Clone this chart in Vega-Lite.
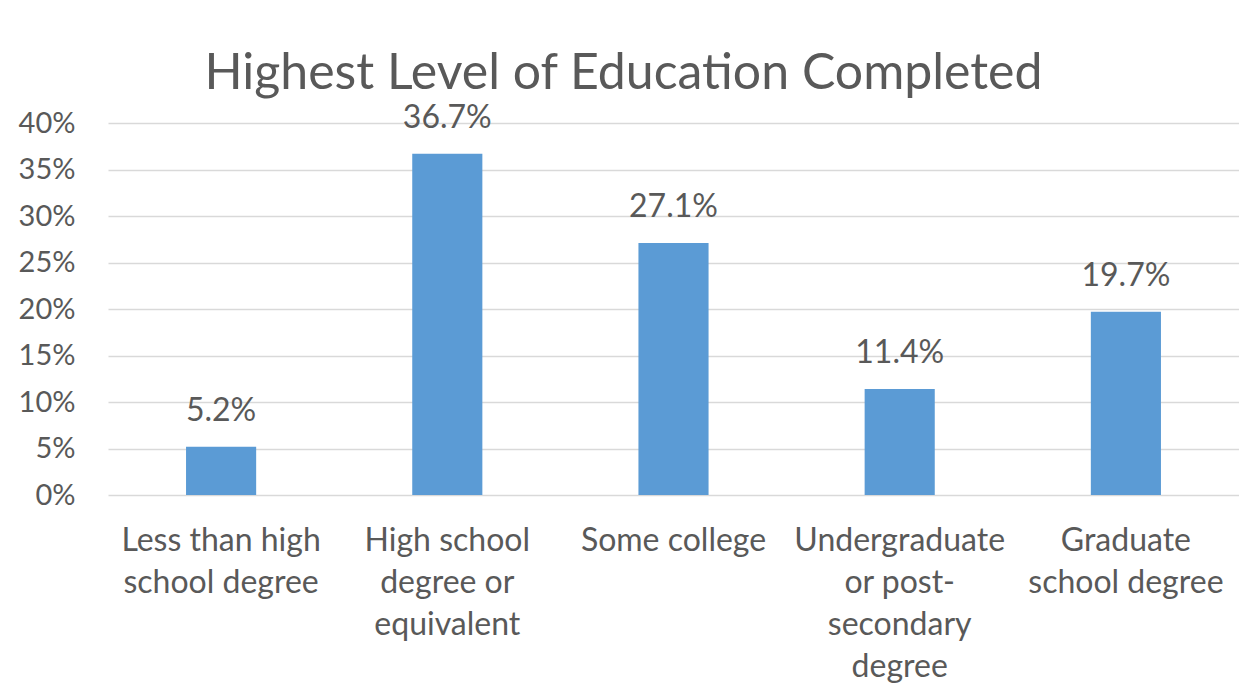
{
  "$schema": "https://vega.github.io/schema/vega-lite/v6.json",
  "autosize": {"type": "none"},
  "width": 1131,
  "height": 372,
  "padding": {"left": 108, "top": 123, "right": 0, "bottom": 201},
  "background": "white",
  "title": {
    "text": "Highest Level of Education Completed",
    "frame": "group",
    "anchor": "middle",
    "dx": -50,
    "dy": 67,
    "fontSize": 50,
    "font": "Lato",
    "fontWeight": "normal",
    "color": "#595959",
    "baseline": "alphabetic",
    "offset": 30
  },
  "data": {
    "values": [
      {"level": "Less than high school degree", "share": 0.052},
      {"level": "High school degree or equivalent", "share": 0.367},
      {"level": "Some college", "share": 0.271},
      {"level": "Undergraduate or post-secondary degree", "share": 0.114},
      {"level": "Graduate school degree", "share": 0.197}
    ]
  },
  "encoding": {
    "x": {
      "field": "level",
      "type": "nominal",
      "sort": null,
      "scale": {"paddingInner": 0.69, "paddingOuter": 0.345},
      "axis": {
        "title": null,
        "labelAngle": 0,
        "domain": false,
        "ticks": false,
        "labelPadding": 30,
        "labelFontSize": 32,
        "labelFont": "Lato",
        "labelColor": "#595959",
        "labelLineHeight": 42,
        "labelBaseline": "top",
        "labelLimit": 400,
        "labelExpr": "datum.value == 'Less than high school degree' ? ['Less than high', 'school degree'] : datum.value == 'High school degree or equivalent' ? ['High school', 'degree or', 'equivalent'] : datum.value == 'Undergraduate or post-secondary degree' ? ['Undergraduate', 'or post-', 'secondary', 'degree'] : datum.value == 'Graduate school degree' ? ['Graduate', 'school degree'] : datum.value"
      }
    },
    "y": {
      "field": "share",
      "type": "quantitative",
      "scale": {"domain": [0, 0.4], "nice": false},
      "axis": {
        "title": null,
        "format": ".0%",
        "values": [0, 0.05, 0.1, 0.15, 0.2, 0.25, 0.3, 0.35, 0.4],
        "domain": false,
        "ticks": false,
        "labelPadding": 33,
        "labelFontSize": 29,
        "labelFont": "Lato",
        "labelColor": "#595959",
        "grid": true,
        "gridColor": "#d9d9d9",
        "gridWidth": 1.3
      }
    }
  },
  "layer": [
    {"mark": {"type": "bar", "color": "#5B9BD5"}},
    {
      "mark": {"type": "text", "dy": -26, "baseline": "alphabetic", "fontSize": 32, "font": "Lato", "color": "#595959"},
      "encoding": {"text": {"field": "share", "type": "quantitative", "format": ".1%"}}
    }
  ],
  "config": {"view": {"stroke": null}}
}
